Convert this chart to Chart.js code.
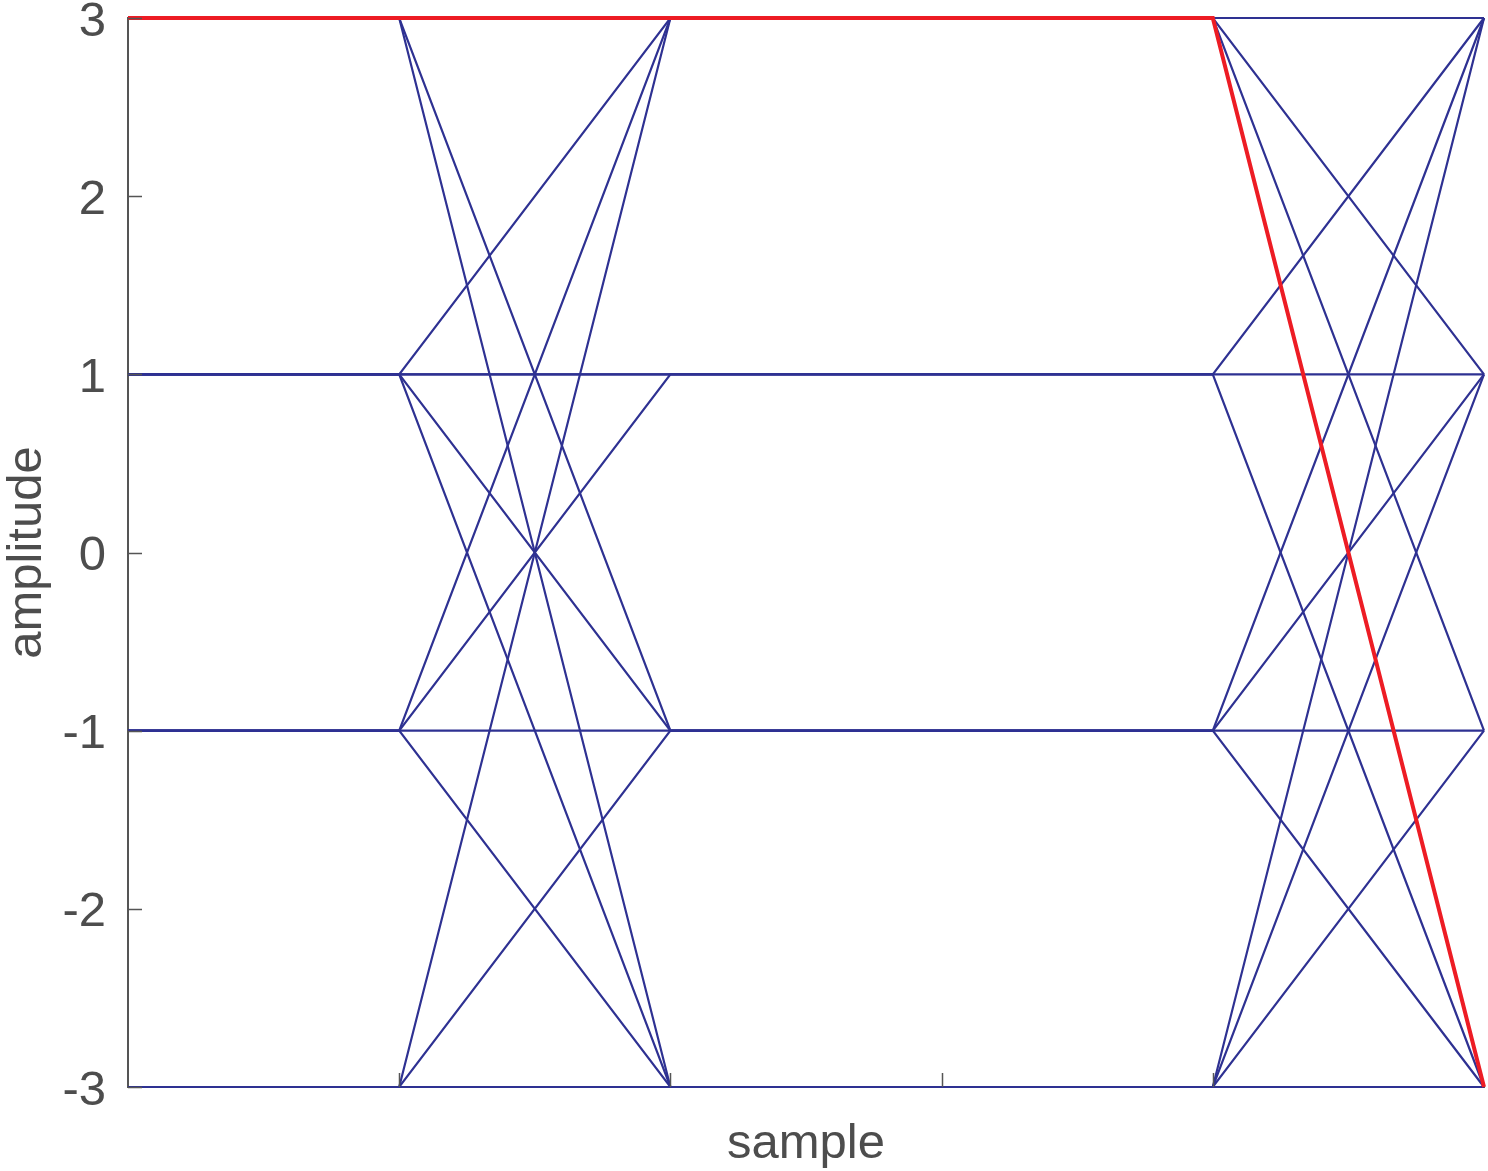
<!DOCTYPE html>
<html>
<head>
<meta charset="utf-8">
<script src="https://cdn.jsdelivr.net/npm/chart.js@4/dist/chart.umd.min.js"></script>
<style>
  html, body { margin: 0; padding: 0; background: #fff; }
  #wrap { width: 1488px; height: 1171px; }
</style>
</head>
<body>
<div id="wrap"><canvas id="eyeChart" width="1488" height="1171"></canvas></div>
<script>
// sample positions and axis ticks
const samples = [0, 1, 2, 3, 4, 5];
const yTicks = [3, 2, 1, 0, -1, -2, -3];

// blue traces (amplitude at each sample)
const trace1 = [1, 1, 3, 3, 3, 3];
const trace2 = [-1, -1, 3, 3, 3, 1];
const trace3 = [-3, -3, 3, 3, 3, -1];
const trace4 = [1, 1, 1, 1, 1, 3];
const trace5 = [-1, -1, 1, 1, 1, 1];
const trace6 = [1, 1, 1, 1, 1, -3];
const trace7 = [3, 3, -1, -1, -1, 3];
const trace8 = [1, 1, -1, -1, -1, 1];
const trace9 = [-1, -1, -1, -1, -1, -1];
const trace10 = [-3, -3, -1, -1, -1, -3];
const trace11 = [3, 3, -3, -3, -3, 3];
const trace12 = [1, 1, -3, -3, -3, 1];
const trace13 = [-1, -1, -3, -3, -3, -1];
const trace14 = [-3, -3, -3, -3, -3, -3];

// red highlighted trace
const highlighted = [3, 3, 3, 3, 3, -3];

const blueTraces = [trace1, trace2, trace3, trace4, trace5, trace6, trace7,
                    trace8, trace9, trace10, trace11, trace12, trace13, trace14];

const BLUE = '#2e3192';
const RED = '#ed1c24';
const TEXT = '#4d4d4d';
const AXIS = '#555555';
const FONT = 'Liberation Sans, Arial, Helvetica, sans-serif';

function toPoints(values) {
    return values.map((v, i) => ({ x: samples[i], y: v }));
}

const datasets = [{
    data: toPoints(highlighted),
    borderColor: RED,
    borderWidth: 4,
    order: 0,
    clip: 10
}];
blueTraces.forEach(t => {
    datasets.push({
        data: toPoints(t),
        borderColor: BLUE,
        borderWidth: 2.2,
        order: 1,
        clip: 10
    });
});

// inward tick marks like the original plot
const innerTicks = {
    id: 'innerTicks',
    afterDatasetsDraw(chart) {
        const ctx = chart.ctx;
        const x = chart.scales.x, y = chart.scales.y;
        const area = chart.chartArea;
        ctx.save();
        ctx.strokeStyle = AXIS;
        ctx.lineWidth = 1.5;
        ctx.beginPath();
        yTicks.forEach(v => {
            const py = Math.round(y.getPixelForValue(v)) + 0.5;
            ctx.moveTo(area.left, py);
            ctx.lineTo(area.left + 14, py);
        });
        samples.slice(1, -1).forEach(v => {
            const px = Math.round(x.getPixelForValue(v)) + 0.5;
            ctx.moveTo(px, area.bottom);
            ctx.lineTo(px, area.bottom - 14);
        });
        ctx.stroke();
        ctx.restore();
    }
};

new Chart(document.getElementById('eyeChart'), {
    type: 'line',
    data: { datasets: datasets },
    options: {
        responsive: false,
        animation: false,
        events: [],
        layout: { padding: { top: 18, right: 4, left: 0, bottom: 0 } },
        elements: {
            point: { radius: 0 },
            line: { tension: 0, fill: false }
        },
        plugins: {
            legend: { display: false },
            tooltip: { enabled: false }
        },
        scales: {
            x: {
                type: 'linear',
                min: 0,
                max: 5,
                afterFit: s => { s.height = 84; s.paddingLeft = 0; s.paddingRight = 0; },
                ticks: { display: false, stepSize: 1 },
                grid: { display: false, drawTicks: false },
                border: { display: true, color: AXIS, width: 2 },
                title: {
                    display: true,
                    text: 'sample',
                    color: TEXT,
                    font: { family: FONT, size: 49, lineHeight: 1 },
                    padding: { top: 0, bottom: 2 }
                }
            },
            y: {
                type: 'linear',
                min: -3,
                max: 3,
                afterFit: s => { s.width = 128; s.paddingTop = 0; s.paddingBottom = 0; },
                afterBuildTicks: s => { s.ticks = yTicks.map(v => ({ value: v })); },
                ticks: {
                    color: TEXT,
                    padding: 22,
                    labelOffset: 4,
                    font: { family: FONT, size: 49 }
                },
                grid: { display: false, drawTicks: false },
                border: { display: true, color: AXIS, width: 2 },
                title: {
                    display: true,
                    text: 'amplitude',
                    color: TEXT,
                    font: { family: FONT, size: 49, lineHeight: 1 },
                    padding: { top: 3, bottom: 0 }
                }
            }
        }
    },
    plugins: [innerTicks]
});
</script>
</body>
</html>
